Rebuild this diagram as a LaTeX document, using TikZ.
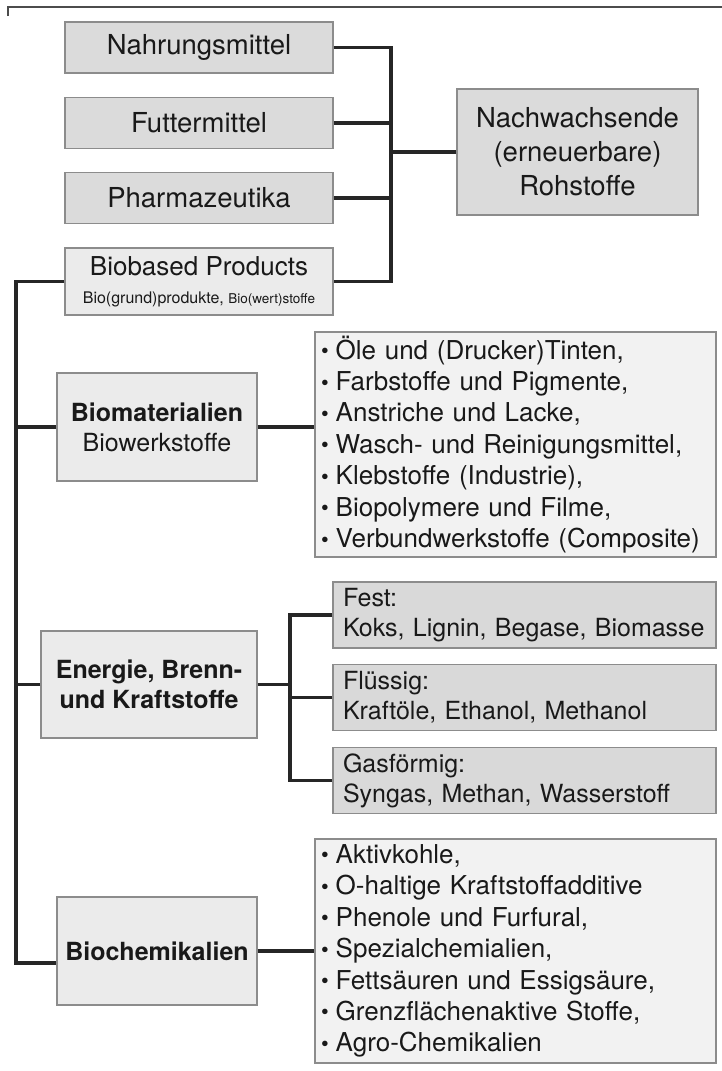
\documentclass[tikz,border=0pt]{standalone}
\usepackage{fontspec}
\setmainfont{TeX Gyre Heros}
\usetikzlibrary{positioning, calc}

\newcommand{\itm}{\raisebox{0.5pt}{\fontsize{22}{22}\selectfont\textbullet}\hspace{7pt}}

\begin{document}
\begin{tikzpicture}[
    x=1pt,y=-1pt,
    box/.style={draw=black!45, line width=1.4pt, rectangle, align=center, text=black!90, inner sep=0pt},
    rawbox/.style={box, fill=black!14, minimum width=268pt, minimum height=51pt, font=\fontsize{27.5}{34}\selectfont},
    prodbox/.style={box, fill=black!8, minimum width=268pt, minimum height=67pt, font=\fontsize{26}{31}\selectfont},
    catbox/.style={box, fill=black!8, minimum width=200pt, minimum height=108pt, font=\fontsize{25}{30}\selectfont},
    listbox/.style={box, fill=black!5, align=left, text width=389pt, inner xsep=6pt, font=\fontsize{26}{31.4}\selectfont},
    fuelbox/.style={box, fill=black!15, align=left, text width=363pt, inner xsep=10pt, minimum height=66pt, font=\fontsize{25}{30}\selectfont},
    conn/.style={draw=black!85, line width=3.2pt}
]
    \useasboundingbox (0,0) rectangle (722,1071);

    % --- Frame line ---
    \draw[line width=1.5pt, black!70] (8,16) -- (8,7) -- (722,7);

    % --- Rohstoffe ---
    \node[rawbox] (nahr) at (199,47.5) {Nahrungsmittel};
    \node[rawbox] (futt) at (199,123) {Futtermittel};
    \node[rawbox] (pharma) at (199,198) {Pharmazeutika};
    \node[prodbox] (biob) at (199,281.5) {Biobased Products\\[-3pt]{\fontsize{16}{16}\selectfont Bio(grund)produkte, \fontsize{13.5}{16}\selectfont Bio(wert)stoffe}};
    \node[rawbox, minimum width=241pt, minimum height=126pt] (nach) at (577.5,152) {Nachwachsende\\(erneuerbare)\\Rohstoffe};

    % --- Product groups ---
    \node[catbox] (biomat) at (157,427) {\textbf{Biomaterialien}\\Biowerkstoffe};
    \node[catbox, minimum width=216pt, minimum height=107pt] (energ) at (149,684.5) {\textbf{Energie, Brenn-}\\\textbf{und Kraftstoffe}};
    \node[catbox] (chem) at (157,951) {\textbf{Biochemikalien}};

    % --- Lists ---
    \node[listbox, minimum height=225pt] (matlist) at (515.5,444.5) {\itm Öle und (Drucker)Tinten,\\\itm Farbstoffe und Pigmente,\\\itm Anstriche und Lacke,\\\itm Wasch- und Reinigungsmittel,\\\itm Klebstoffe (Industrie),\\\itm Biopolymere und Filme,\\\itm Verbundwerkstoffe (Composite)};
    \node[listbox, minimum height=224pt] (chemlist) at (515.5,951) {\itm Aktivkohle,\\\itm O-haltige Kraftstoffadditive\\\itm Phenole und Furfural,\\\itm Spezialchemialien,\\\itm Fettsäuren und Essigsäure,\\\itm Grenzflächenaktive Stoffe,\\\itm Agro-Chemikalien};

    % --- Fuels ---
    \node[fuelbox] (fest) at (524.5,615) {Fest:\\Koks, Lignin, Begase, Biomasse};
    \node[fuelbox] (fluess) at (524.5,697.5) {Flüssig:\\Kraftöle, Ethanol, Methanol};
    \node[fuelbox] (gas) at (524.5,780.5) {Gasförmig:\\Syngas, Methan, Wasserstoff};

    % --- Buses ---
    \coordinate (rbus) at (391,0);
    \coordinate (lbus) at (16,0);
    \coordinate (ebus) at (290,0);
    \coordinate (chemin) at ([yshift=-12pt]chem.west);

    % --- Connectors ---
    \draw[conn] (nahr.east) -| (rbus |- biob.east) -- (biob.east);
    \draw[conn] (futt.east) -- (futt.east -| rbus);
    \draw[conn] (pharma.east) -- (pharma.east -| rbus);
    \draw[conn] (nach.west) -- (nach.west -| rbus);

    \draw[conn] (biob.west) -| (lbus |- chemin) -- (chemin);
    \draw[conn] (biomat.west) -- (biomat.west -| lbus);
    \draw[conn] (energ.west) -- (energ.west -| lbus);

    \draw[conn] (biomat.east) -- (biomat.east -| matlist.west);
    \draw[conn] (chem.east) -- (chem.east -| chemlist.west);

    \draw[conn] (energ.east) -- (energ.east -| ebus);
    \draw[conn] (fest.west) -| (ebus |- gas.west) -- (gas.west);
    \draw[conn] (fluess.west) -- (fluess.west -| ebus);

\end{tikzpicture}
\end{document}
